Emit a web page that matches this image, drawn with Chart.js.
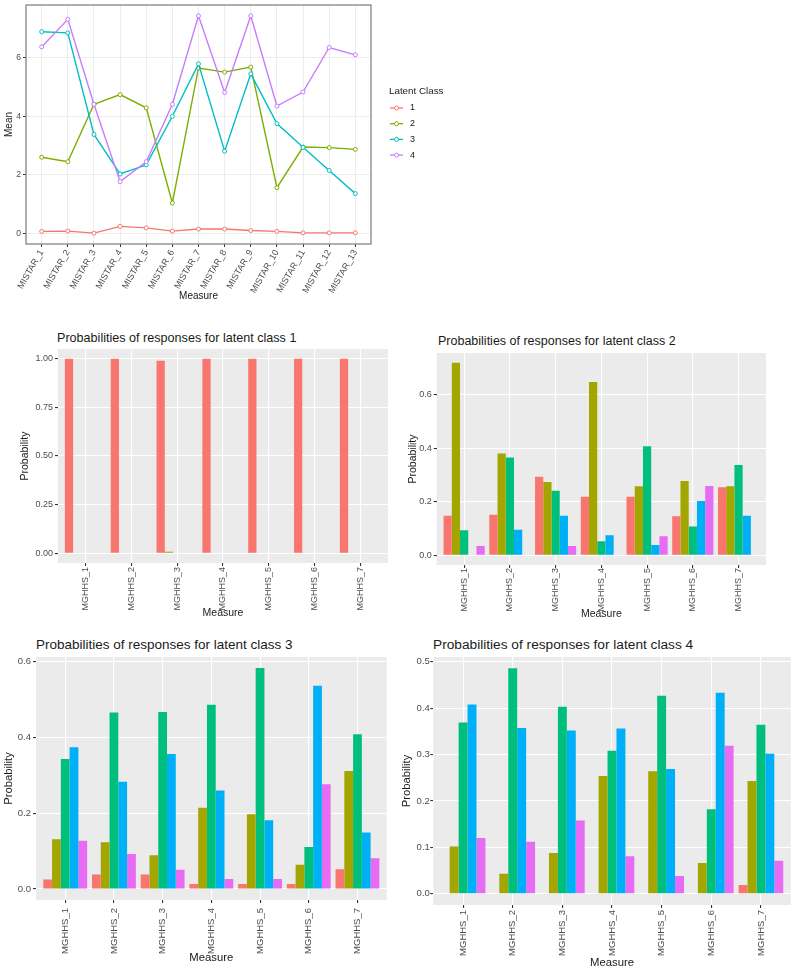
<!DOCTYPE html>
<html>
<head>
<meta charset="utf-8">
<script src="https://cdn.jsdelivr.net/npm/chart.js@4.4.1/dist/chart.umd.min.js"></script>
<style>
  body { margin: 0; background: #fff; width: 800px; height: 974px; position: relative; overflow: hidden;
         font-family: "Liberation Sans", Arial, sans-serif; }
  canvas { position: absolute; }
  .plot-title { position: absolute; white-space: nowrap; line-height: 1; color: #1a1a1a; }
</style>
</head>
<body>
<canvas id="meanChart" width="480" height="305" style="left:0;top:0"></canvas>

<div class="plot-title" style="left:57px;top:331.6px;font-size:12.6px">Probabilities of responses for latent class 1</div>
<canvas id="probChart1" width="395" height="275" style="left:0;top:349px"></canvas>

<div class="plot-title" style="left:438px;top:334.9px;font-size:12.5px">Probabilities of responses for latent class 2</div>
<canvas id="probChart2" width="375" height="271" style="left:400px;top:353px"></canvas>

<div class="plot-title" style="left:36px;top:637.9px;font-size:13.5px">Probabilities of responses for latent class 3</div>
<canvas id="probChart3" width="395" height="317" style="left:0;top:657px"></canvas>

<div class="plot-title" style="left:433px;top:638.4px;font-size:13.7px">Probabilities of responses for latent class 4</div>
<canvas id="probChart4" width="400" height="317" style="left:400px;top:657px"></canvas>

<script>
// ---- line chart data: mean score per MISTAR item for each latent class ----
const mistarLabels = ["MISTAR_1", "MISTAR_2", "MISTAR_3", "MISTAR_4", "MISTAR_5", "MISTAR_6", "MISTAR_7",
                      "MISTAR_8", "MISTAR_9", "MISTAR_10", "MISTAR_11", "MISTAR_12", "MISTAR_13"];
const latentClasses = ["1", "2", "3", "4"];
const classColors = ["#F8766D", "#7CAE00", "#00BFC4", "#C77CFF"];
const meanClass1 = [0.07, 0.08, 0.01, 0.24, 0.19, 0.08, 0.15, 0.15, 0.10, 0.07, 0.02, 0.02, 0.02];
const meanClass2 = [2.60, 2.45, 4.41, 4.74, 4.29, 1.04, 5.65, 5.51, 5.68, 1.56, 2.95, 2.93, 2.87];
const meanClass3 = [6.89, 6.85, 3.38, 2.03, 2.34, 4.00, 5.79, 2.81, 5.45, 3.75, 2.94, 2.15, 1.36];
const meanClass4 = [6.37, 7.31, 4.41, 1.77, 2.45, 4.41, 7.43, 4.81, 7.43, 4.35, 4.83, 6.35, 6.10];
const meanTicks = [0, 2, 4, 6];

// ---- bar chart data: one row per response level, one column per MGHHS item ----
const mghhsLabels = ["MGHHS_1", "MGHHS_2", "MGHHS_3", "MGHHS_4", "MGHHS_5", "MGHHS_6", "MGHHS_7"];
const responseLevels = ["1", "2", "3", "4", "5"];
const responseColors = ["#F8766D", "#A3A500", "#00BF7D", "#00B0F6", "#E76BF3"];

const probsClass1 = [
  [1.00, 1.00, 0.99, 1.00, 1.00, 1.00, 1.00],
  [0, 0, 0.008, 0, 0, 0, 0],
  [0, 0, 0, 0, 0, 0, 0],
  [0, 0, 0, 0, 0, 0, 0],
  [0, 0, 0, 0, 0, 0, 0]
];
const probsClass2 = [
  [0.148, 0.152, 0.294, 0.219, 0.219, 0.146, 0.254],
  [0.720, 0.381, 0.274, 0.648, 0.258, 0.278, 0.258],
  [0.094, 0.366, 0.241, 0.053, 0.408, 0.108, 0.338],
  [0, 0.096, 0.148, 0.075, 0.039, 0.203, 0.148],
  [0.035, 0, 0.035, 0, 0.071, 0.259, 0]
];
const probsClass3 = [
  [0.025, 0.038, 0.038, 0.013, 0.013, 0.013, 0.052],
  [0.131, 0.123, 0.089, 0.214, 0.197, 0.064, 0.311],
  [0.343, 0.466, 0.467, 0.486, 0.583, 0.111, 0.408],
  [0.374, 0.283, 0.356, 0.260, 0.181, 0.536, 0.149],
  [0.127, 0.092, 0.051, 0.026, 0.026, 0.276, 0.081]
];
const probsClass4 = [
  [0, 0, 0, 0, 0, 0, 0.019],
  [0.102, 0.043, 0.088, 0.254, 0.264, 0.066, 0.243],
  [0.369, 0.486, 0.403, 0.308, 0.427, 0.182, 0.364],
  [0.408, 0.357, 0.352, 0.356, 0.269, 0.433, 0.302],
  [0.120, 0.112, 0.158, 0.081, 0.038, 0.319, 0.071]
];
const probTicks1 = [0, 0.25, 0.5, 0.75, 1];
const probTicks2 = [0, 0.2, 0.4, 0.6];
const probTicks3 = [0, 0.2, 0.4, 0.6];
const probTicks4 = [0, 0.1, 0.2, 0.3, 0.4, 0.5];

const FONT = '"Liberation Sans", Arial, sans-serif';
Chart.defaults.font.family = FONT;

// fills the panel (ggplot grey background) and optionally draws a border round it
const panelPlugin = {
  id: "panel",
  beforeDraw(chart, args, opts) {
    if (!opts.background) return;
    const { ctx, chartArea: a } = chart;
    ctx.save();
    ctx.fillStyle = opts.background;
    ctx.fillRect(a.left, a.top, a.width, a.height);
    ctx.restore();
  },
  afterDraw(chart, args, opts) {
    if (!opts.border) return;
    const { ctx, chartArea: a } = chart;
    ctx.save();
    ctx.strokeStyle = opts.border;
    ctx.lineWidth = 1.2;
    ctx.strokeRect(a.left, a.top, a.width, a.height);
    ctx.restore();
  }
};

// ggplot style legend (line + open point) drawn right of the panel
const classLegend = {
  id: "classLegend",
  afterDraw(chart, args, opts) {
    if (!opts.title) return;
    const ctx = chart.ctx;
    ctx.save();
    ctx.textBaseline = "middle";
    ctx.fillStyle = "#1a1a1a";
    ctx.font = "9.8px " + FONT;
    ctx.fillText(opts.title, opts.x, opts.y);
    ctx.font = "9px " + FONT;
    chart.data.datasets.forEach((ds, i) => {
      const y = opts.y + opts.first + i * opts.step;
      ctx.strokeStyle = ds.borderColor;
      ctx.lineWidth = 1.3;
      ctx.beginPath();
      ctx.moveTo(opts.x + 1, y);
      ctx.lineTo(opts.x + 14, y);
      ctx.stroke();
      ctx.beginPath();
      ctx.arc(opts.x + 7.5, y, 2, 0, Math.PI * 2);
      ctx.fillStyle = "#fff";
      ctx.fill();
      ctx.lineWidth = 1;
      ctx.stroke();
      ctx.fillStyle = "#1a1a1a";
      ctx.fillText(ds.label, opts.x + 21, y);
    });
    ctx.restore();
  }
};

Chart.register(panelPlugin, classLegend);

// ---------------- line chart of means ----------------
const meanSeries = [meanClass1, meanClass2, meanClass3, meanClass4];
const allMeans = meanSeries.flat();
const meanMin = Math.min(...allMeans), meanMax = Math.max(...allMeans);
const meanPad = (meanMax - meanMin) * 0.05;

new Chart(document.getElementById("meanChart"), {
  type: "line",
  data: {
    datasets: meanSeries.map((vals, k) => ({
      label: latentClasses[k],
      data: vals.map((v, i) => ({ x: i, y: v })),
      borderColor: classColors[k],
      borderWidth: 1.4,
      pointRadius: 2,
      pointBorderWidth: 1,
      pointBackgroundColor: "#fff",
      pointBorderColor: classColors[k],
      tension: 0,
      order: latentClasses.length - k
    }))
  },
  options: {
    responsive: false,
    animation: false,
    layout: { padding: { left: 0, top: 4, right: 109, bottom: 0 } },
    plugins: {
      legend: { display: false },
      tooltip: { enabled: false },
      panel: { border: "#7a7a7a" },
      classLegend: { title: "Latent Class", x: 389, y: 91, first: 17, step: 15.7 }
    },
    scales: {
      x: {
        type: "linear",
        min: -0.6,
        max: mistarLabels.length - 0.4,
        offset: false,
        afterBuildTicks: (s) => { s.ticks = mistarLabels.map((_, i) => ({ value: i })); },
        afterFit: (s) => { s.height = 61; s.paddingLeft = 0; s.paddingRight = 0; },
        ticks: {
          callback: (v) => mistarLabels[v],
          minRotation: 60, maxRotation: 60, autoSkip: false,
          font: { size: 9 }, color: "#4D4D4D", padding: 1
        },
        grid: { color: "#EDEDED", lineWidth: 1, tickColor: "#333", tickLength: 3, offset: false },
        border: { display: false },
        title: { display: true, text: "Measure", font: { size: 10 }, color: "#1a1a1a", padding: { top: 0, bottom: 3 } }
      },
      y: {
        min: meanMin - meanPad,
        max: meanMax + meanPad,
        afterBuildTicks: (s) => { s.ticks = meanTicks.map((v) => ({ value: v })); },
        afterFit: (s) => { s.width = 26; s.paddingTop = 0; s.paddingBottom = 0; },
        ticks: { font: { size: 8.6 }, color: "#4D4D4D", padding: 2, autoSkip: false },
        grid: { color: "#EDEDED", lineWidth: 1, tickColor: "#333", tickLength: 3 },
        border: { display: false },
        title: { display: true, text: "Mean", font: { size: 10 }, color: "#1a1a1a", padding: { top: 3, bottom: 0 } }
      }
    }
  }
});

// ---------------- dodged bar charts of response probabilities ----------------
function probChart(id, probs, yTicks, decimals, g) {
  const top = Math.max(...probs.flat());
  new Chart(document.getElementById(id), {
    type: "bar",
    data: {
      datasets: probs.map((vals, k) => ({
        label: responseLevels[k],
        data: vals.map((v, i) => ({ x: i + 1, y: v })),
        backgroundColor: responseColors[k],
        borderWidth: 0,
        barPercentage: 1,
        categoryPercentage: 0.9
      }))
    },
    options: {
      responsive: false,
      animation: false,
      layout: { padding: { left: 0, top: 0, right: g.padRight, bottom: 0 } },
      plugins: {
        legend: { display: false },
        tooltip: { enabled: false },
        panel: { background: "#EBEBEB" }
      },
      scales: {
        x: {
          type: "linear",
          min: 0.4,
          max: mghhsLabels.length + 0.6,
          offset: false,
          afterBuildTicks: (s) => { s.ticks = mghhsLabels.map((_, i) => ({ value: i + 1 })); },
          afterFit: (s) => { s.height = g.xHeight; s.paddingLeft = 0; s.paddingRight = 0; },
          ticks: {
            callback: (v) => mghhsLabels[v - 1],
            minRotation: 90, maxRotation: 90, autoSkip: false,
            font: { size: g.tickSize }, color: "#4D4D4D", padding: g.xPad
          },
          grid: { color: "#fff", lineWidth: 1.1, tickColor: "#333", tickLength: 3, offset: false },
          border: { display: false },
          title: { display: true, text: "Measure", font: { size: g.titleSize }, color: "#1a1a1a",
                   padding: { top: 0, bottom: g.measurePad } }
        },
        y: {
          min: -0.05 * top,
          max: 1.05 * top,
          afterBuildTicks: (s) => { s.ticks = yTicks.map((v) => ({ value: v })); },
          afterFit: (s) => { s.width = g.yWidth; s.paddingTop = 0; s.paddingBottom = 0; },
          ticks: {
            callback: (v) => v.toFixed(decimals),
            font: { size: g.tickSize }, color: "#4D4D4D", padding: g.yPad, autoSkip: false
          },
          grid: { color: "#fff", lineWidth: 1.1, tickColor: "#333", tickLength: 3 },
          border: { display: false },
          title: { display: true, text: "Probability", font: { size: g.titleSize }, color: "#1a1a1a",
                   padding: { top: g.probPad, bottom: 0 } }
        }
      }
    }
  });
}

probChart("probChart1", probsClass1, probTicks1, 2,
  { yWidth: 58, xHeight: 61, padRight: 7, tickSize: 9, titleSize: 10.5, xPad: 1, yPad: 2, measurePad: 4.7, probPad: 19 });
probChart("probChart2", probsClass2, probTicks2, 1,
  { yWidth: 36.7, xHeight: 59, padRight: 9, tickSize: 9, titleSize: 10.5, xPad: 0, yPad: 2, measurePad: 3.7, probPad: 6.4 });
probChart("probChart3", probsClass3, probTicks3, 1,
  { yWidth: 36, xHeight: 74, padRight: 8.3, tickSize: 9.5, titleSize: 11.3, xPad: 5, yPad: 2, measurePad: 8.9, probPad: 2.5 });
probChart("probChart4", probsClass4, probTicks4, 1,
  { yWidth: 33.3, xHeight: 69, padRight: 9.3, tickSize: 9.5, titleSize: 11.3, xPad: 2, yPad: 0.5, measurePad: 3.9, probPad: 0 });
</script>
</body>
</html>
